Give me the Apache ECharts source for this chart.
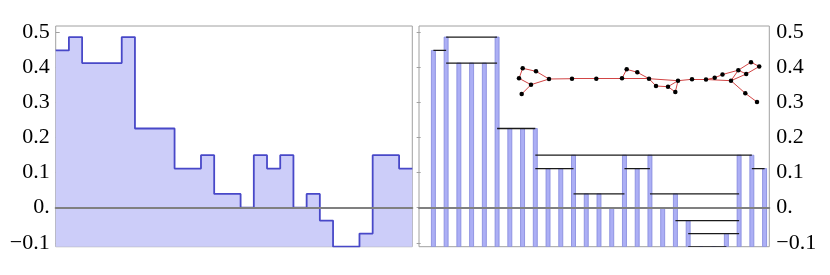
<!DOCTYPE html>
<html><head><meta charset="utf-8">
<script src="https://cdn.jsdelivr.net/npm/echarts@6/dist/echarts.min.js"></script>
<style>html,body{margin:0;padding:0;background:#fff}#c{width:830px;height:275px}</style>
</head><body><div id="c"></div>
<script>
// values of the 27 steps / bars
const values = [0.447,0.485,0.411,0.411,0.411,0.485,0.225,0.225,0.225,0.111,0.111,0.149,0.039,0.039,0,
                0.149,0.111,0.149,0,0.039,-0.037,-0.111,-0.111,-0.074,0.149,0.149,0.111];
const yTicks = [-0.1,0,0.1,0.2,0.3,0.4,0.5];
// horizontal connectors: [fromBar, toBar, level]
const segments = [[1,2,0.447],[2,6,0.485],[2,6,0.411],[6,9,0.225],[9,26,0.149],[9,12,0.111],[16,18,0.111],
                  [26,27,0.111],[12,16,0.039],[18,25,0.039],[14,16,0],[18,20,0],[20,25,-0.037],[21,25,-0.074],[21,24,-0.111]];
// inset graph layout
const nodeX = [7.7,21,4,16,6.7,34,57,81.3,107,111.7,122.3,134,141,153,160.3,163,177,191,199.7,207.5,216,223.3,231.2,236,244.2,230.3,242];
const nodeY = [8.3,11.3,18.3,24.7,34,19,18.7,18.7,18.3,9.3,12.3,18.7,26,26.7,32,20.7,19.3,19.5,17.8,14.5,20.7,10.2,14,2.2,6.5,33.3,42];
const edges = [[0,1],[0,2],[2,3],[3,4],[1,5],[3,5],[5,6],[6,7],[7,8],[8,9],[9,10],[10,11],[8,11],[11,12],[12,13],
               [13,14],[13,15],[14,15],[11,15],[15,16],[16,17],[17,18],[18,19],[19,21],[21,23],[23,24],[24,22],
               [21,22],[20,21],[20,22],[17,20],[20,25],[25,26]];

const Y_MIN = -0.1112, Y_MAX = 0.5165;
const stepData = values.map((v,i)=>[i,v]);
stepData.push([values.length, values[values.length-1]]);
const barData = values.map((v,i)=>[i+1,v]);

function fmt(v){ if (Math.abs(v) < 1e-9) return '0.'; return v.toFixed(1).replace('-', '\u2212'); }
function yAxisFor(grid, pos, margin){
  return {type:'value', gridIndex:grid, position:pos, min:Y_MIN, max:Y_MAX,
    axisLine:{show:false}, splitLine:{show:false},
    axisTick:{show:true, inside:true, length:4, customValues:yTicks, lineStyle:{color:'#a0a0a0'}},
    axisLabel:{customValues:yTicks, formatter:fmt, fontFamily:'Liberation Serif', fontSize:22, color:'#000', margin:margin}};
}
function xAxisFor(grid, min, max){
  return {type:'value', gridIndex:grid, min:min, max:max, z:5,
    axisLine:{show:true, onZero:true, lineStyle:{color:'#808080', width:2}},
    axisTick:{show:false}, axisLabel:{show:false}, splitLine:{show:false}};
}

const chart = echarts.init(document.getElementById('c'), null, {renderer:'canvas'});
chart.setOption({
  animation:false,
  grid:[
    {left:55.7, top:26, width:356.6, height:220.7, show:true, borderColor:'#a0a0a0', borderWidth:1, backgroundColor:'transparent'},
    {left:419, top:26, width:350.3, height:220.7, show:true, borderColor:'#a0a0a0', borderWidth:1, backgroundColor:'transparent'},
    {left:515, top:60, width:250, height:45}
  ],
  xAxis:[ xAxisFor(0,0,27), xAxisFor(1,-0.13,27.37),
    {type:'value', gridIndex:2, min:0, max:250, show:false} ],
  yAxis:[ yAxisFor(0,'left',6), yAxisFor(1,'right',7),
    {type:'value', gridIndex:2, min:0, max:45, inverse:true, show:false} ],
  series:[
    {type:'line', xAxisIndex:0, yAxisIndex:0, step:'end', data:stepData, symbol:'none',
     lineStyle:{color:'#4848c8', width:1.8}, areaStyle:{color:'#cccdf9', opacity:1, origin:'start'}, z:2},
    {type:'custom', xAxisIndex:1, yAxisIndex:1, data:barData, encode:{x:0,y:1}, clip:true, z:2,
     renderItem:function(params, api){
       const x = api.value(0), v = api.value(1);
       const top = api.coord([x, v]), bot = api.coord([x, Y_MIN]);
       return {type:'rect', shape:{x:top[0]-2, y:top[1], width:4, height:bot[1]-top[1]},
               style:{fill:'#acaff5', stroke:'#8286dc', lineWidth:0.8}};
     }},
    {type:'custom', xAxisIndex:1, yAxisIndex:1, data:segments, encode:{x:[0,1],y:2}, clip:true, z:3,
     renderItem:function(params, api){
       const p1 = api.coord([api.value(0), api.value(2)]), p2 = api.coord([api.value(1), api.value(2)]);
       return {type:'line', shape:{x1:p1[0], y1:p1[1], x2:p2[0], y2:p2[1]}, style:{stroke:'#1a1a1a', lineWidth:1.3}};
     }},
    {type:'graph', coordinateSystem:'cartesian2d', xAxisIndex:2, yAxisIndex:2, z:6,
     data:nodeX.map((x,i)=>[x, nodeY[i]]), links:edges.map(e=>({source:e[0], target:e[1]})),
     symbol:'circle', symbolSize:4.5, itemStyle:{color:'#000'}, label:{show:false},
     lineStyle:{color:'#d24545', width:1, opacity:1, curveness:0}}
  ]
});
</script></body></html>
